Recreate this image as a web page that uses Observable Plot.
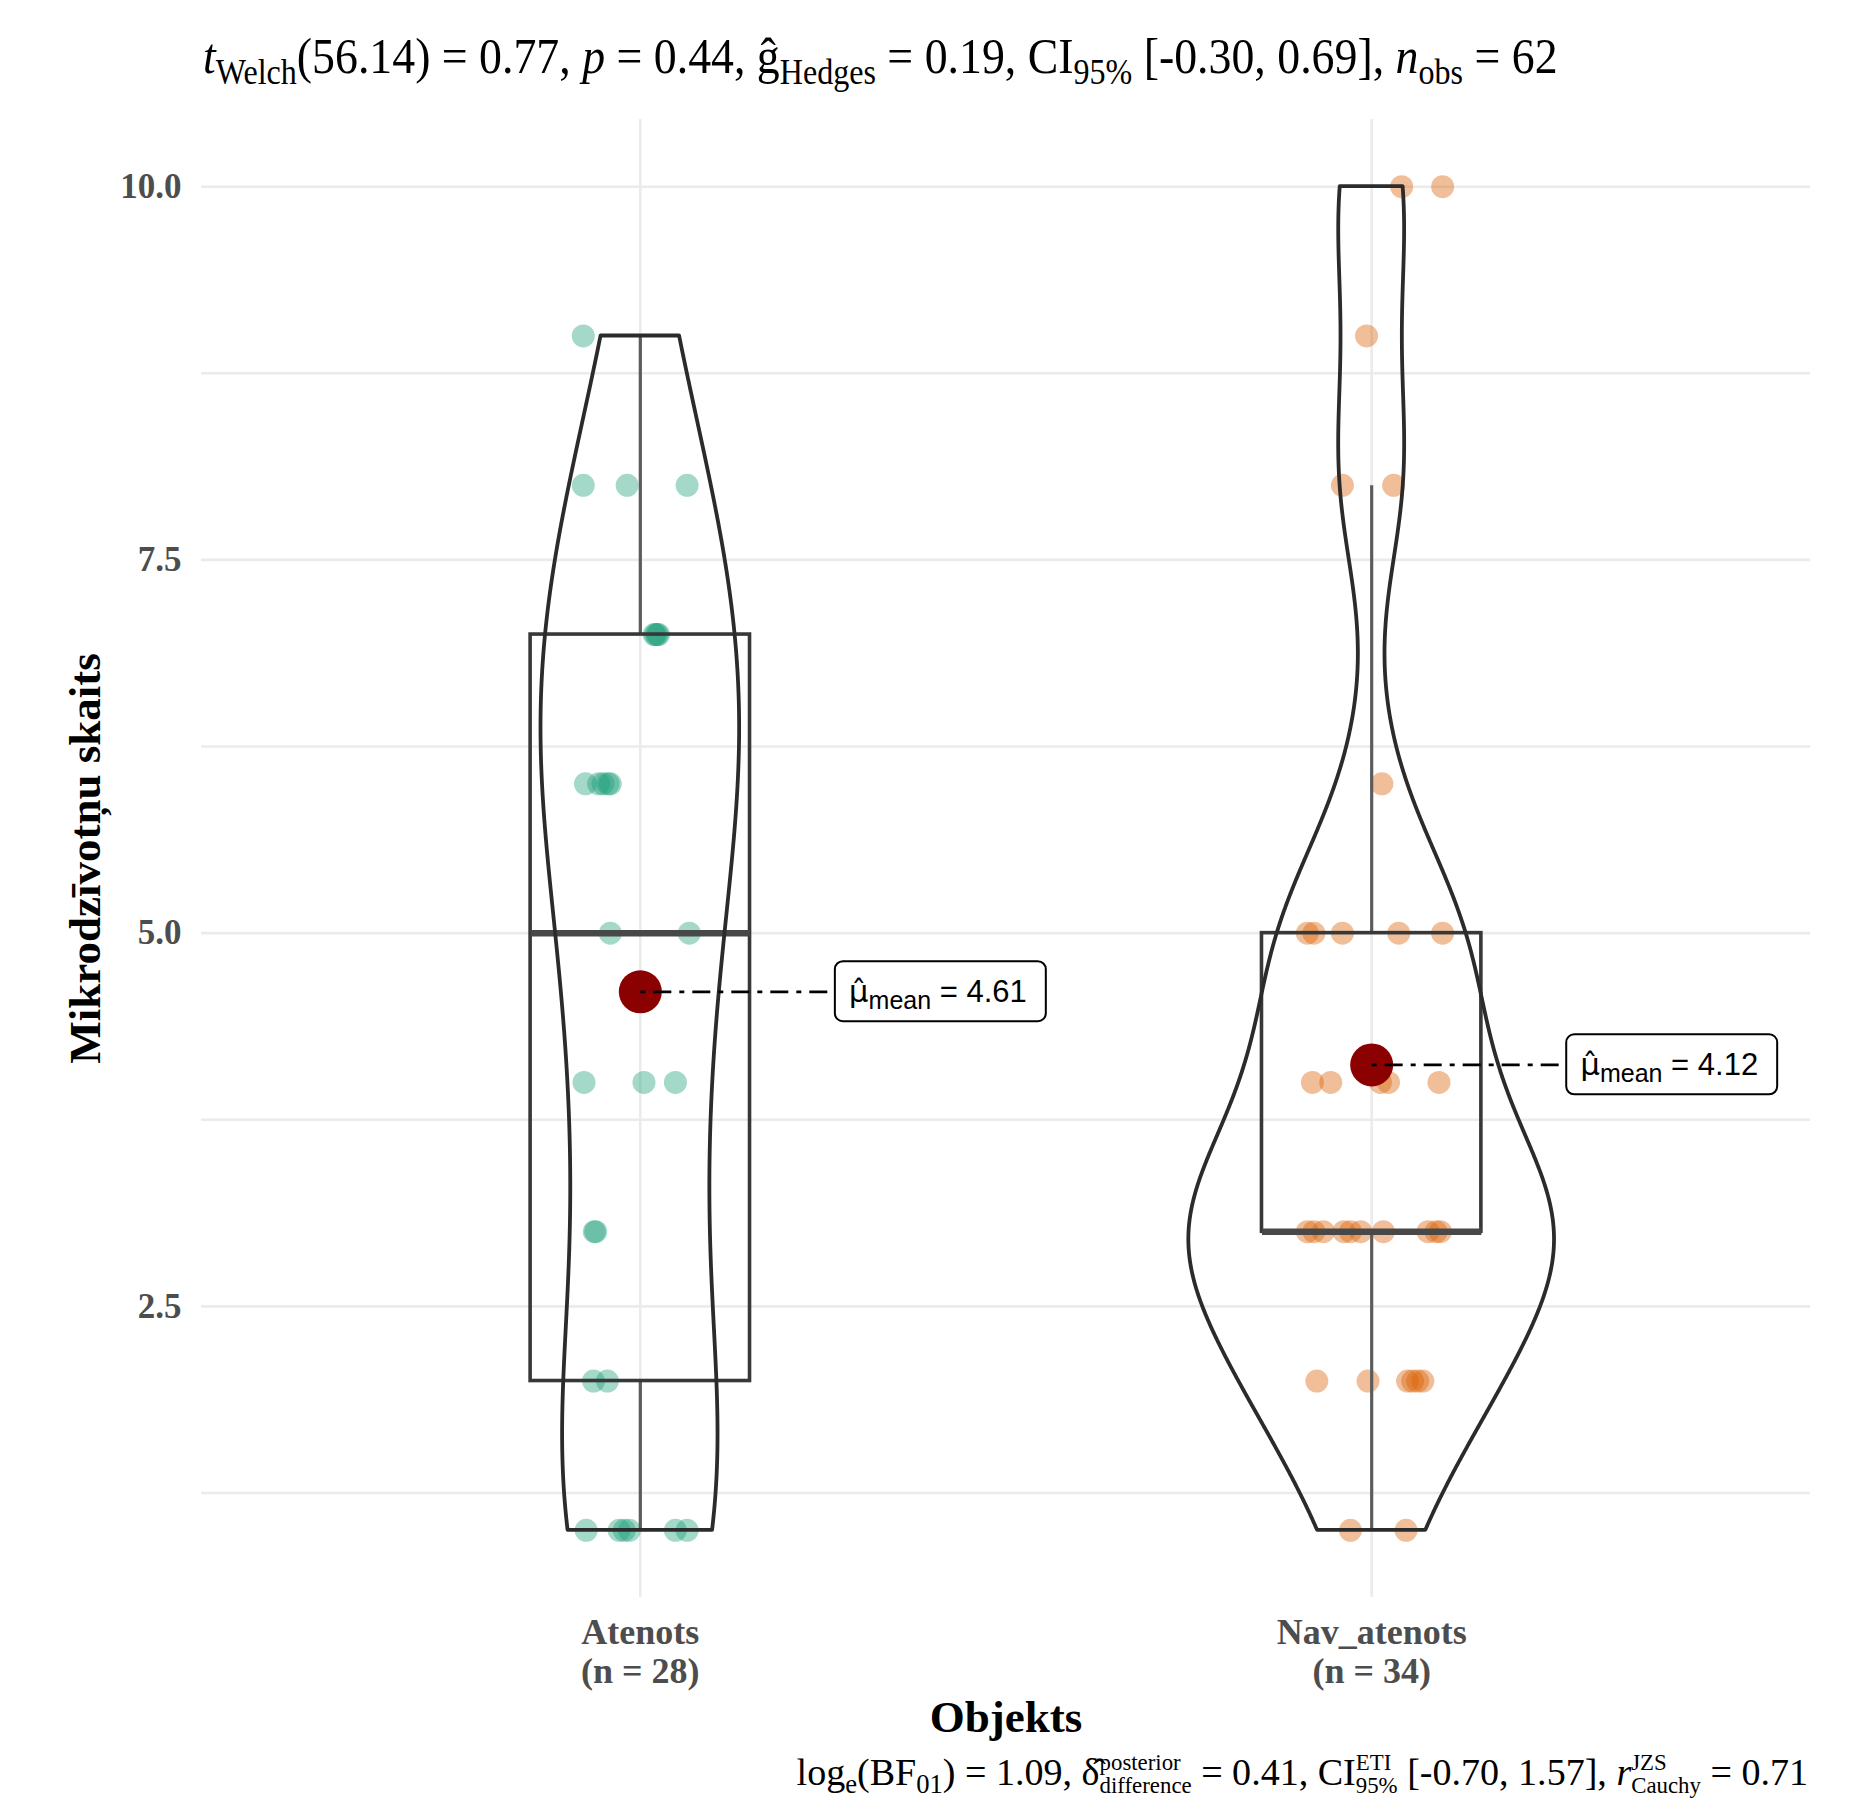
<!DOCTYPE html>
<html>
<head>
<meta charset="utf-8">
<script src="https://cdn.jsdelivr.net/npm/d3@7"></script>
<script src="https://cdn.jsdelivr.net/npm/@observablehq/plot@0.6"></script>
<style>
html, body { margin: 0; padding: 0; background: #fff; overflow: hidden; }
#wrap { position: relative; width: 1869px; height: 1809px; overflow: hidden; background: #fff; }
.stat { position: absolute; top: 0; left: 0; white-space: nowrap; font-family: "Liberation Serif", "Times New Roman", serif; color: #000; line-height: 1; }
.stat sub { font-size: 0.7em; vertical-align: -0.32em; line-height: 0; }
.ss { display: inline-block; vertical-align: -0.36em; font-size: 0.6em; line-height: 1.0; text-align: left; }
.ss span { display: block; }
.bl { display: inline-block; width: 0; height: 0; }
</style>
</head>
<body>
<div id="wrap">
  <div id="title" class="stat"></div>
  <div id="caption" class="stat"></div>
</div>
<script>
// ---------------- data ----------------
const groups = ["Atenots", "Nav_atenots"];
const groupColors = ["#1b9e77", "#d95f02"];

const atenotsValues = [1, 1, 1, 1, 1, 1, 2, 2, 3, 3, 4, 4, 4, 5, 5, 6, 6, 6, 6, 6, 7, 7, 7, 7, 8, 8, 8, 9];
const atenotsJitter = [-0.074, -0.029, -0.022, -0.015, 0.048, 0.064, -0.064, -0.045, -0.063, -0.061,
  -0.077, 0.005, 0.048, -0.041, 0.067, -0.075, -0.057, -0.041, -0.051, -0.044,
  0.021, 0.023, 0.025, 0.019, -0.078, -0.018, 0.064, -0.078];

const navValues = [1, 1, 2, 2, 2, 2, 2, 2, 3, 3, 3, 3, 3, 3, 3, 3, 3, 3, 4, 4, 4, 4, 4,
  5, 5, 5, 5, 5, 6, 8, 8, 9, 10, 10];
const navJitter = [-0.029, 0.047, -0.075, -0.005, 0.049, 0.056, 0.063, 0.070,
  -0.088, -0.079, -0.066, -0.038, -0.029, -0.015, 0.016, 0.077, 0.088, 0.094,
  -0.081, -0.056, 0.012, 0.023, 0.092, -0.088, -0.079, -0.040, 0.037, 0.097,
  0.014, -0.040, 0.030, -0.007, 0.041, 0.097];

const yTicks = [2.5, 5, 7.5, 10];
const yGrid = [1.25, 2.5, 3.75, 5, 6.25, 7.5, 8.75, 10];
const welchStats = ["56.14", "0.77", "0.44", "0.19", "-0.30", "0.69", "62"];
const bayesStats = ["1.09", "0.41", "-0.70", "1.57", "0.71"];
const yLabel = "Mikrodzīvotņu skaits";
const xLabel = "Objekts";

// ---------------- derived ----------------
const series = [atenotsValues, navValues];
const jitters = [atenotsJitter, navJitter];
const labelNudge = 0.266;

const stats = series.map((vals, i) => {
  const s = vals.slice().sort(d3.ascending);
  const q1 = d3.quantile(s, 0.25), med = d3.quantile(s, 0.5), q3 = d3.quantile(s, 0.75);
  const iqr = q3 - q1;
  return {
    g: i + 1, q1, med, q3,
    lo: d3.min(s.filter(v => v >= q1 - 1.5 * iqr)),
    hi: d3.max(s.filter(v => v <= q3 + 1.5 * iqr)),
    mean: d3.mean(s), n: s.length
  };
});

function bwNrd0(x) {
  const sd = d3.deviation(x);
  const iqr = d3.quantile(x, 0.75) - d3.quantile(x, 0.25);
  let lo = Math.min(sd, iqr / 1.34);
  if (!lo) lo = sd || 1;
  return 0.9 * lo * Math.pow(x.length, -0.2);
}
const dens = series.map(vals => {
  const bw = bwNrd0(vals);
  const [a, b] = d3.extent(vals);
  return d3.range(512).map(k => {
    const y = a + (b - a) * k / 511;
    let s = 0;
    for (const v of vals) { const u = (y - v) / bw; s += Math.exp(-0.5 * u * u); }
    return {y, d: s / (vals.length * bw * Math.sqrt(2 * Math.PI))};
  });
});
const maxD = d3.max(dens.flat(), d => d.d);
const violins = dens.map((arr, i) => arr.map(p => ({
  y: p.y, x1: i + 1 - 0.25 * p.d / maxD, x2: i + 1 + 0.25 * p.d / maxD
})));
const points = series.map((vals, i) => vals.map((v, j) => ({x: i + 1 + jitters[i][j], y: v})));

// ---------------- plot ----------------
const boxStroke = "#383838";
const marks = [
  Plot.gridY(yGrid, {stroke: "#ebebeb", strokeOpacity: 1, strokeWidth: 2.6}),
  Plot.gridX([1, 2], {stroke: "#ebebeb", strokeOpacity: 1, strokeWidth: 2.6}),
  Plot.axisY(yTicks, {tickFormat: d => d.toFixed(1), tickSize: 0, tickPadding: 20, fontSize: 35,
    fontWeight: "bold", fill: "#4d4d4d", label: null}),
  Plot.axisX([1, 2], {tickFormat: d => `${groups[d - 1]}\n(n = ${stats[d - 1].n})`, tickSize: 0,
    tickPadding: 19, fontSize: 36, fontWeight: "bold", fill: "#4d4d4d", lineHeight: 1.08, label: null}),
  Plot.text([yLabel], {frameAnchor: "left", dx: -116, rotate: -90, textAnchor: "middle", text: d => d,
    fontSize: 45, fontWeight: "bold", fill: "#000"}),
  Plot.text([xLabel], {frameAnchor: "bottom", dy: 134, textAnchor: "middle", text: d => d, fontSize: 45,
    fontWeight: "bold", fill: "#000"})
];
points.forEach((pts, i) => {
  marks.push(Plot.dot(pts, {x: "x", y: "y", r: 11.5, fill: groupColors[i], fillOpacity: 0.4, stroke: "none"}));
});
marks.push(
  Plot.link(stats, {x1: "g", x2: "g", y1: "lo", y2: "q1", stroke: "#5c5c5c", strokeWidth: 3.2}),
  Plot.link(stats, {x1: "g", x2: "g", y1: "q3", y2: "hi", stroke: "#5c5c5c", strokeWidth: 3.2}),
  Plot.rect(stats, {x1: d => d.g - 0.15, x2: d => d.g + 0.15, y1: "q1", y2: "q3", fill: "none",
    stroke: boxStroke, strokeWidth: 3.6}),
  Plot.link(stats, {x1: d => d.g - 0.15, x2: d => d.g + 0.15, y1: "med", y2: "med", stroke: "#484848", strokeWidth: 6.5})
);
violins.forEach(v => {
  marks.push(Plot.areaX(v, {y: "y", x1: "x1", x2: "x2", fill: "none", stroke: "#2b2b2b", strokeWidth: 3.8}));
});
marks.push(
  Plot.dot(stats, {x: "g", y: "mean", r: 21.5, fill: "#8b0000", stroke: "none"}),
  Plot.link(stats, {x1: "g", x2: d => d.g + labelNudge, y1: "mean", y2: "mean", stroke: "#000",
    strokeWidth: 2.8, strokeDasharray: "5,8,18,8"}),
  Plot.text(stats, {x: d => d.g + labelNudge, y: "mean", text: d => "μ̂mean = " + d.mean.toFixed(2),
    textAnchor: "start", dx: 14, fontSize: 31, fill: "#000",
    fontFamily: "'Liberation Sans', Arial, sans-serif"})
);

const svg = Plot.plot({
  width: 1869, height: 1809,
  marginLeft: 201, marginRight: 59, marginTop: 119, marginBottom: 212,
  style: {fontFamily: "'Liberation Serif', 'Times New Roman', serif", background: "#fff", overflow: "visible"},
  x: {type: "linear", domain: [0.4, 2.6]},
  y: {domain: [0.55, 10.45]},
  marks
});
const wrap = document.getElementById("wrap");
wrap.insertBefore(svg, wrap.firstChild);

// mean labels: subscript + rounded box
const NS = "http://www.w3.org/2000/svg";
svg.querySelectorAll("text").forEach(t => {
  const txt = t.textContent;
  if (!txt.startsWith("μ̂mean")) return;
  const bb0 = t.getBBox();
  const cy = bb0.y + bb0.height / 2;
  const val = txt.split("= ")[1];
  t.textContent = "";
  const a = document.createElementNS(NS, "tspan"); a.textContent = "μ̂";
  a.setAttribute("font-family", "'DejaVu Sans', sans-serif");
  const b = document.createElementNS(NS, "tspan"); b.textContent = "mean";
  b.setAttribute("font-size", "25"); b.setAttribute("dy", "7");
  const c = document.createElementNS(NS, "tspan"); c.textContent = " = " + val; c.setAttribute("dy", "-7");
  t.append(a, b, c);
  const bb = t.getBBox();
  const r = document.createElementNS(NS, "rect");
  r.setAttribute("x", bb.x - 14);
  r.setAttribute("y", cy - 30);
  r.setAttribute("width", bb.width + 33);
  r.setAttribute("height", 60);
  r.setAttribute("rx", 8);
  r.setAttribute("fill", "#fff");
  r.setAttribute("stroke", "#000");
  r.setAttribute("stroke-width", 2);
  if (t.getAttribute("transform")) r.setAttribute("transform", t.getAttribute("transform"));
  t.parentNode.insertBefore(r, t);
});

// ---------------- title & caption ----------------
const title = document.getElementById("title");
title.innerHTML = `<i>t</i><sub>Welch</sub>(${welchStats[0]}) = ${welchStats[1]}, <i>p</i> = ${welchStats[2]}, ĝ<sub>Hedges</sub> = ${welchStats[3]}, CI<sub>95%</sub> [${welchStats[4]}, ${welchStats[5]}], <i>n</i><sub>obs</sub> = ${welchStats[6]}<span class="bl"></span>`;
const caption = document.getElementById("caption");
caption.innerHTML = `log<sub>e</sub>(BF<sub>01</sub>) = ${bayesStats[0]}, δ̂<span class="ss"><span>posterior</span><span>difference</span></span> = ${bayesStats[1]}, CI<span class="ss"><span>ETI</span><span>95%</span></span> [${bayesStats[2]}, ${bayesStats[3]}], <i>r</i><span class="ss"><span>JZS</span><span>Cauchy</span></span> = ${bayesStats[4]}<span class="bl"></span>`;

function place(el, width, baseline, left, right, sy) {
  el.style.fontSize = "40px";
  const w0 = el.getBoundingClientRect().width;
  el.style.fontSize = (40 * width / w0) + "px";
  const rect = el.getBoundingClientRect();
  const bl = el.querySelector(".bl").getBoundingClientRect().top - rect.top;
  el.style.top = (baseline - bl) + "px";
  el.style.left = (left != null ? left : right - rect.width) + "px";
  if (sy) {
    el.style.transformOrigin = `0px ${bl}px`;
    el.style.transform = `scaleY(${sy})`;
  }
}
place(title, 1355, 73, 203, null, 1.1);
place(caption, 1012, 1785, null, 1808, null);
</script>
</body>
</html>
